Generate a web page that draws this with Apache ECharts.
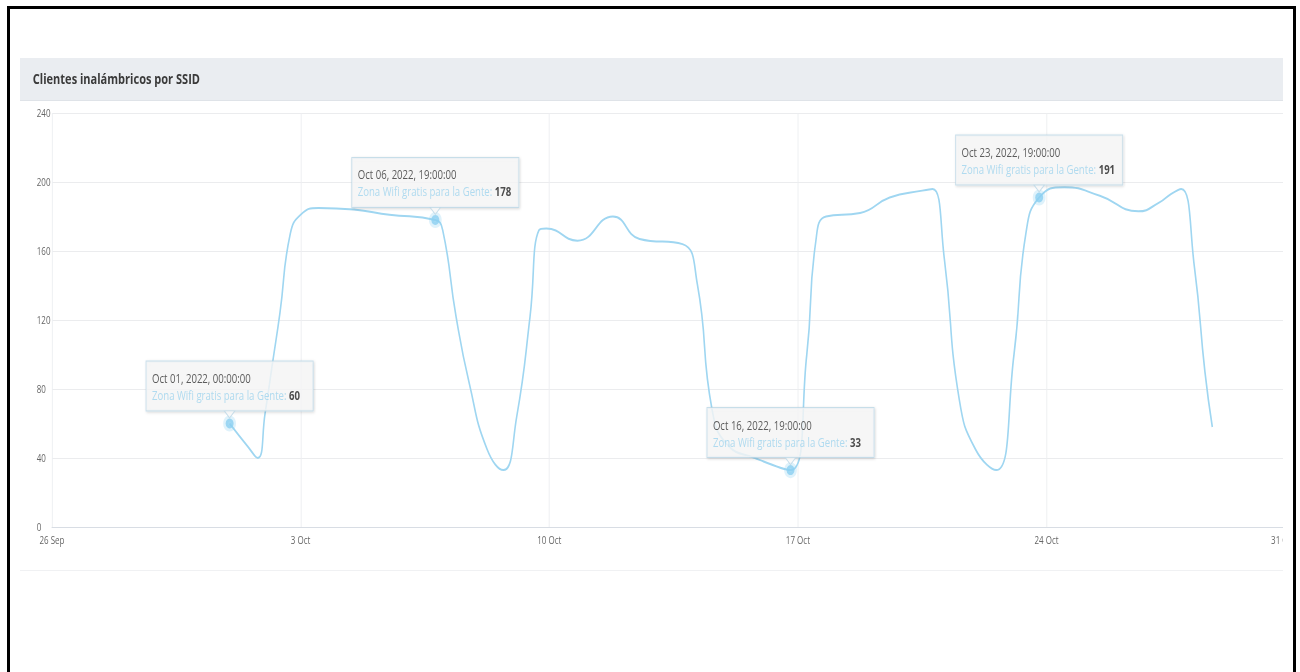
<!DOCTYPE html>
<html>
<head>
<meta charset="utf-8">
<script src="https://cdn.jsdelivr.net/npm/echarts@6/dist/echarts.min.js"></script>
<style>
html,body{margin:0;padding:0;width:1300px;height:672px;overflow:hidden;background:#fff;}
#frame{position:absolute;left:7px;top:6px;width:1289px;height:720px;border:3px solid #000;box-sizing:border-box;}
#strip{position:absolute;left:20px;top:58px;width:1263px;height:42px;background:#eaedf1;border-bottom:1px solid #dfe3e8;}
#cardbottom{position:absolute;left:20px;top:570px;width:1263px;height:1px;background:#f0f1f3;}
#clip{position:absolute;left:20px;top:0;width:1263px;height:672px;overflow:hidden;}
#chart{position:absolute;left:0;top:0;width:1600px;height:672px;transform:scaleX(0.8);transform-origin:0 0;}
</style>
</head>
<body>
<div id="frame"></div>
<div id="strip"></div>
<div id="cardbottom"></div>
<div id="clip"><div id="chart"></div></div>
<script>
// ---- data ----
var titleText = 'Clientes inalámbricos por SSID';
var seriesName = 'Zona Wifi gratis para la Gente';
var xTickLabels = ['26 Sep', '3 Oct', '10 Oct', '17 Oct', '24 Oct', '31 Oct'];
var yTicks = [0, 40, 80, 120, 160, 200, 240];
var times = [
  '2022-10-01 00:00','2022-10-01 12:00','2022-10-01 19:00','2022-10-02 00:00','2022-10-02 05:00',
  '2022-10-02 10:00','2022-10-02 17:00','2022-10-03 00:00','2022-10-03 12:00','2022-10-04 12:00',
  '2022-10-05 12:00','2022-10-06 19:00','2022-10-07 00:00','2022-10-07 09:00','2022-10-07 18:00',
  '2022-10-08 06:00','2022-10-08 17:00','2022-10-09 02:00','2022-10-09 11:00','2022-10-09 17:00',
  '2022-10-09 22:00','2022-10-10 19:00','2022-10-11 19:00','2022-10-12 13:00','2022-10-13 18:00',
  '2022-10-14 04:00','2022-10-14 14:00','2022-10-15 00:00','2022-10-15 19:00','2022-10-16 19:00',
  '2022-10-17 06:00','2022-10-17 12:00','2022-10-17 19:00','2022-10-18 18:00','2022-10-19 14:00',
  '2022-10-20 12:00','2022-10-20 19:00','2022-10-21 03:00','2022-10-21 13:00','2022-10-22 00:00',
  '2022-10-22 14:00','2022-10-23 02:00','2022-10-23 10:00','2022-10-23 19:00','2022-10-24 12:00',
  '2022-10-25 12:00','2022-10-26 14:00','2022-10-27 04:00','2022-10-27 12:00','2022-10-27 19:00',
  '2022-10-28 04:00','2022-10-28 11:00','2022-10-28 16:00'
];
var values = [
  60, 47, 40, 66, 95,
  124, 170, 181, 185, 184,
  181, 178, 172, 122, 83,
  45, 33, 64, 122, 172,
  173, 166, 180, 167, 164,
  141, 68, 48, 40, 33,
  100, 165, 180, 182, 191,
  195, 196, 155, 74, 45,
  33, 100, 170, 191, 197,
  192, 183, 188, 193, 196,
  150, 90, 58
];
var tipTimes = ['2022-10-01 00:00', '2022-10-06 19:00', '2022-10-16 19:00', '2022-10-23 19:00'];
var tipValues = [60, 178, 33, 191];
var tipLabels = ['Oct 01, 2022, 00:00:00', 'Oct 06, 2022, 19:00:00', 'Oct 16, 2022, 19:00:00', 'Oct 23, 2022, 19:00:00'];

// ---- helpers ----
var startMs = Date.UTC(2022, 8, 26, 0, 0);
function dayOffset(s) {
  var p = s.split(/[- :]/).map(Number);
  return (Date.UTC(p[0], p[1] - 1, p[2], p[3], p[4]) - startMs) / 86400000;
}
var lineData = times.map(function (t, i) { return [dayOffset(t), values[i]]; });
var tipData = tipTimes.map(function (t, i) { return [dayOffset(t), tipValues[i]]; });

var FONT = "'Open Sans', sans-serif";
var chart = echarts.init(document.getElementById('chart'), null, { renderer: 'svg', width: 1600, height: 672 });
chart.setOption({
  animation: false,
  title: {
    text: titleText, left: 16, top: 72, padding: 0,
    textStyle: { fontFamily: FONT, fontSize: 13.8, fontWeight: 'bold', color: '#3a3a3a' }
  },
  grid: { left: 40, right: 6, top: 113, bottom: 145, containLabel: false, outerBoundsMode: 'none' },
  xAxis: {
    type: 'value', min: 0, max: 35, interval: 7,
    axisLine: { show: true, lineStyle: { color: '#d6dbe3', width: 1 } },
    axisTick: { show: false },
    splitLine: { show: true, lineStyle: { color: '#eceef1', width: 1 } },
    axisLabel: {
      color: '#666', fontSize: 10, fontFamily: FONT, margin: 8,
      showMaxLabel: true, showMinLabel: true, hideOverlap: false,
      alignMaxLabel: 'right',
      formatter: function (v) { return xTickLabels[Math.round(v / 7)]; }
    }
  },
  yAxis: {
    type: 'value', min: yTicks[0], max: yTicks[yTicks.length - 1], interval: 40,
    axisLine: { show: false }, axisTick: { show: false },
    splitLine: { show: true, lineStyle: { color: '#e9eaec', width: 1 } },
    axisLabel: { color: '#666', fontSize: 10, fontFamily: FONT, align: 'left', margin: 19 }
  },
  series: [
    {
      name: seriesName, type: 'line', data: lineData, smooth: 0.5,
      symbol: 'none', z: 2,
      lineStyle: { color: '#9fd6f1', width: 2 }
    },
    {
      name: seriesName + ' tips', type: 'scatter', data: tipData, z: 3,
      symbol: 'circle', symbolSize: 10,
      itemStyle: { color: '#8ccff1', borderColor: 'rgba(140,207,241,0.35)', borderWidth: 6 },
      label: {
        show: true, position: 'top', distance: 5, align: 'left', offset: [-104, 0],
        width: 194,
        backgroundColor: '#f7f7f7', borderColor: '#bcd7e6', borderWidth: 1,
        padding: [8, 7, 7, 7],
        shadowColor: 'rgba(0,0,0,0.18)', shadowBlur: 3, shadowOffsetX: 1, shadowOffsetY: 1,
        formatter: function (p) {
          return '{d|' + tipLabels[p.dataIndex] + '}\n{n|' + seriesName + ': }{v|' + p.value[1] + '}';
        },
        rich: {
          d: { fontFamily: FONT, fontSize: 12, color: '#333', lineHeight: 17 },
          n: { fontFamily: FONT, fontSize: 12, color: '#9dd3ee', lineHeight: 17 },
          v: { fontFamily: FONT, fontSize: 12, color: '#222', fontWeight: 'bold', lineHeight: 17 }
        }
      }
    },
    {
      name: seriesName + ' arrows', type: 'scatter', data: tipData, z: 5, silent: true,
      symbol: 'path://M0,0L12,0L6,7Z', symbolSize: [13, 7], symbolOffset: [0, -9],
      itemStyle: { color: '#f7f7f7', borderColor: '#bcd7e6', borderWidth: 1 }
    }
  ]
});
</script>
</body>
</html>
